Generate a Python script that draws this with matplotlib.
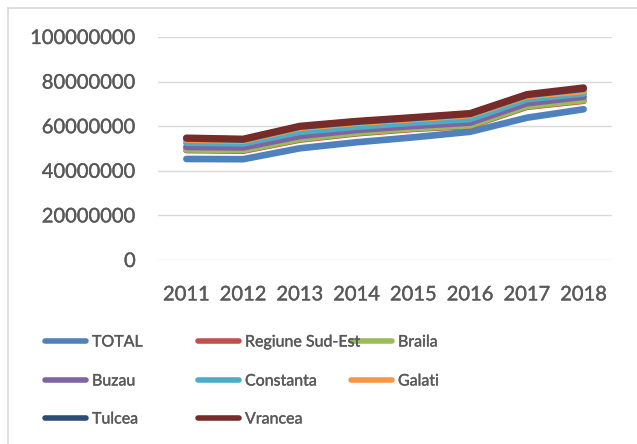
import matplotlib
matplotlib.use("Agg")
import matplotlib.pyplot as plt
from matplotlib.lines import Line2D
import matplotlib.patheffects as pe

years = ["2011", "2012", "2013", "2014", "2015", "2016", "2017", "2018"]
total = [45.3e6, 45.2e6, 50.1e6, 52.8e6, 55.0e6, 57.5e6, 63.8e6, 67.6e6]
regiune = [49.3e6, 49.0e6, 54.0e6, 56.8e6, 58.8e6, 60.1e6, 68.7e6, 71.4e6]
braila = [49.6e6, 49.3e6, 54.3e6, 57.1e6, 59.1e6, 60.4e6, 69.0e6, 71.7e6]
buzau = [50.7e6, 50.5e6, 55.6e6, 58.3e6, 60.1e6, 61.6e6, 70.3e6, 73.2e6]
constanta = [52.6e6, 52.3e6, 57.5e6, 59.8e6, 61.6e6, 63.2e6, 72.1e6, 74.7e6]
galati = [54.0e6, 53.5e6, 59.3e6, 61.5e6, 63.2e6, 65.0e6, 73.5e6, 75.8e6]
tulcea = [54.5e6, 54.0e6, 59.8e6, 62.0e6, 63.7e6, 65.5e6, 74.0e6, 76.8e6]
vrancea = [54.8e6, 54.3e6, 60.1e6, 62.3e6, 64.0e6, 65.8e6, 74.3e6, 77.3e6]

names = ["TOTAL", "Regiune Sud-Est", "Braila", "Buzau", "Constanta", "Galati", "Tulcea", "Vrancea"]
series = [total, regiune, braila, buzau, constanta, galati, tulcea, vrancea]
colors = ["#4F81BD", "#C0504D", "#9BBB59", "#8064A2", "#4BACC6", "#F79646", "#2C4D75", "#772C2A"]
yticks = [0, 20000000, 40000000, 60000000, 80000000, 100000000]

plt.rcParams['font.family'] = ['Lato', 'DejaVu Sans']
TXT = '#595959'
bold = [pe.withStroke(linewidth=0.25, foreground=TXT)]
W, H = 637, 444
fig = plt.figure(figsize=(W / 100, H / 100), dpi=100)
ax = fig.add_axes([158 / W, 1 - 260 / H, (612 - 158) / W, (260 - 37) / H])

x = list(range(len(years)))
for name, vals, c in zip(names, series, colors):
    ax.plot(x, vals, color=c, lw=4.8, solid_capstyle='round', solid_joinstyle='round', label=name)

ax.set_xlim(-0.5, len(years) - 0.5)
ax.set_ylim(0, 100000000)
ax.set_yticks(yticks)
ax.set_yticklabels([str(v) for v in yticks])
ax.set_xticks(x)
ax.set_xticklabels(years)
ax.grid(axis='y', color='#d9d9d9', lw=1)
ax.set_axisbelow(True)
for s in ax.spines.values():
    s.set_visible(False)
ax.tick_params(axis='both', length=0, labelsize=14.5, colors=TXT)
ax.tick_params(axis='y', pad=16)
ax.tick_params(axis='x', pad=19)
for t in ax.get_xticklabels() + ax.get_yticklabels():
    t.set_path_effects(bold)

# chart border
fig.add_artist(Line2D([8 / W, 1], [1 - 8 / H, 1 - 8 / H], color='#d9d9d9', lw=1.2, transform=fig.transFigure))
fig.add_artist(Line2D([8 / W, 8 / W], [0, 1 - 8 / H], color='#d9d9d9', lw=1.2, transform=fig.transFigure))

# legend (3 columns, Excel-style uniform grid)
col_x = [43, 196, 349]
row_y = [341, 380, 418]
for i, (name, c) in enumerate(zip(names, colors)):
    r, k = divmod(i, 3)
    x0 = col_x[k]
    y0 = 1 - row_y[r] / H
    fig.add_artist(Line2D([(x0 + 2) / W, (x0 + 43) / W], [y0, y0], color=c, lw=4.0,
                          solid_capstyle='round', transform=fig.transFigure))
    fig.text((x0 + 49) / W, y0, name, fontsize=11.5, color=TXT, va='center_baseline',
             ha='left', path_effects=bold)

fig.savefig("out.png", dpi=100)
